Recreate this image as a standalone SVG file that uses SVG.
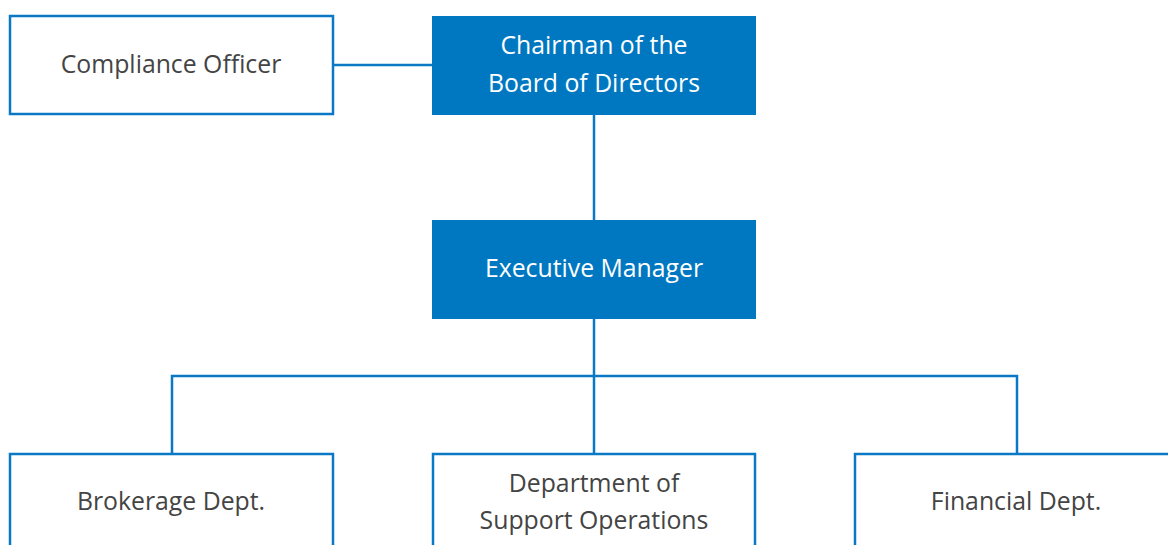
<svg xmlns="http://www.w3.org/2000/svg" width="1168" height="545" viewBox="0 0 1168 545">
<style>
.box{fill:#fff;stroke:#0a78c4;stroke-width:2.5}
.fill{fill:#0078c1}
.ln{stroke:#0a78c4;stroke-width:2.5;fill:none}
text{font-family:"Open Sans","Liberation Sans",sans-serif;font-size:24.8px;text-anchor:middle}
.dk{fill:#444}
.wt{fill:#fff}
</style>
<rect width="1168" height="545" fill="#fff"/>
<g id="connectors">
<line class="ln" x1="334" y1="65" x2="432" y2="65"/>
<line class="ln" x1="594" y1="114" x2="594" y2="220"/>
<line class="ln" x1="594" y1="319" x2="594" y2="453"/>
<polyline class="ln" points="172,453 172,376 1017,376 1017,453"/>
</g>
<g id="compliance">
<rect class="box" x="10" y="16" width="323" height="98"/>
<text class="dk" x="171" y="73">Compliance Officer</text>
</g>
<g id="chairman">
<rect class="fill" x="432" y="16" width="324" height="99"/>
<text class="wt" x="594" y="54">Chairman of the</text>
<text class="wt" x="594" y="92">Board of Directors</text>
</g>
<g id="executive">
<rect class="fill" x="432" y="220" width="324" height="99"/>
<text class="wt" x="594" y="277">Executive Manager</text>
</g>
<g id="brokerage">
<rect class="box" x="10" y="454" width="323" height="100"/>
<text class="dk" x="171" y="510">Brokerage Dept.</text>
</g>
<g id="support">
<rect class="box" x="433" y="454" width="322" height="100"/>
<text class="dk" x="594" y="492">Department of</text>
<text class="dk" x="594" y="529">Support Operations</text>
</g>
<g id="financial">
<rect class="box" x="855" y="454" width="330" height="100"/>
<text class="dk" x="1016" y="510">Financial Dept.</text>
</g>
</svg>
